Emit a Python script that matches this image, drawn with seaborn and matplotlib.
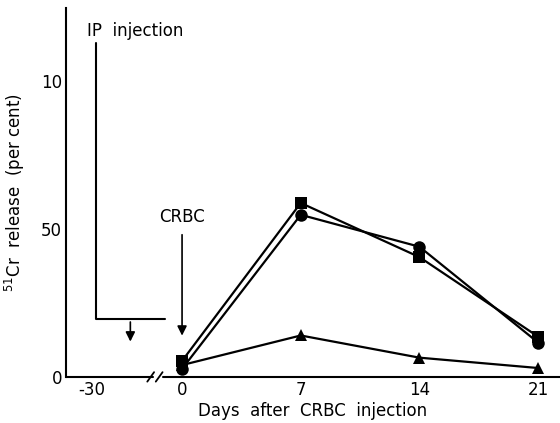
import numpy as np
import pandas as pd
import matplotlib
matplotlib.use("Agg")
import matplotlib.pyplot as plt
import seaborn as sns

days = [0, 7, 14, 21]
square_vals = [5.4, 58.8, 40.5, 13.6]
circle_vals = [2.7, 54.8, 44.0, 11.6]
triangle_vals = [4.0, 14.0, 6.5, 3.0]

x_tick_days = [-30, 0, 7, 14, 21]
x_tick_labels = ["-30", "0", "7", "14", "21"]
y_ticks = [0, 50, 100]
y_tick_labels = ["0", "50", "10"]
y_minor = [25, 75]


def day_pos(d):
    # broken x axis: pre-injection day -30 is squeezed next to day 0
    return d if d >= 0 else -5.3


sns.set_style("white")
plt.rcParams["font.family"] = ["DejaVu Sans"]
plt.rcParams["text.color"] = "black"
plt.rcParams["axes.labelcolor"] = "black"

fig = plt.figure(figsize=(5.6, 4.23), dpi=100)
ax = fig.add_axes([0.118, 0.109, 0.882, 0.872])

df = pd.DataFrame({"day": [day_pos(d) for d in days],
                   "sq": square_vals, "ci": circle_vals, "tr": triangle_vals})

sns.lineplot(data=df, x="day", y="sq", marker="s", color="black", markersize=8.5,
             linewidth=1.6, markeredgewidth=0, ax=ax)
sns.lineplot(data=df, x="day", y="ci", marker="o", color="black", markersize=9,
             linewidth=1.6, markeredgewidth=0, ax=ax)
sns.lineplot(data=df, x="day", y="tr", marker="^", color="black", markersize=9,
             linewidth=1.6, markeredgewidth=0, ax=ax)

ax.set_xlim(-6.84, 22.29)
ax.set_ylim(0, 124.7)
ax.set_xticks([day_pos(d) for d in x_tick_days])
ax.set_xticklabels(x_tick_labels)
ax.set_yticks(y_ticks)
ax.set_yticklabels(y_tick_labels)
ax.set_yticks(y_minor, minor=True)
ax.tick_params(axis="both", which="both", direction="in", length=9, width=1.2,
               labelsize=12, colors="black", pad=3)
ax.tick_params(axis="y", which="minor", length=7)

for s in ["top", "right", "bottom"]:
    ax.spines[s].set_visible(False)
ax.spines["left"].set_linewidth(1.5)
ax.spines["left"].set_color("black")

# bottom axis drawn in two pieces with a break
ax.plot([-6.84, -1.72], [0, 0], color="black", lw=1.5, clip_on=False)
ax.plot([-1.1, 22.29], [0, 0], color="black", lw=1.5, clip_on=False)
for x0 in [-1.85, -1.35]:
    ax.plot([x0 - 0.2, x0 + 0.2], [-1.6, 1.6], color="black", lw=1.3, clip_on=False)

ax.set_xlabel("Days  after  CRBC  injection", fontsize=12, labelpad=2)
ax.set_ylabel("$^{51}$Cr  release  (per cent)", fontsize=12, labelpad=10)

# IP injection annotation
ax.text(-5.6, 117, "IP  injection", fontsize=12, ha="left", va="center")
ax.plot([-5.1, -5.1, -1.0], [113, 19.5, 19.5], color="black", lw=1.5)
ax.annotate("", xy=(-3.05, 11.0), xytext=(-3.05, 19.5),
            arrowprops=dict(arrowstyle="-|>", color="black", lw=1.2,
                            mutation_scale=14))

# CRBC arrow
ax.text(0, 54, "CRBC", fontsize=12, ha="center", va="center")
ax.annotate("", xy=(0, 13), xytext=(0, 49),
            arrowprops=dict(arrowstyle="-|>", color="black", lw=1.2,
                            mutation_scale=14))

fig.savefig("out.png", dpi=100)
